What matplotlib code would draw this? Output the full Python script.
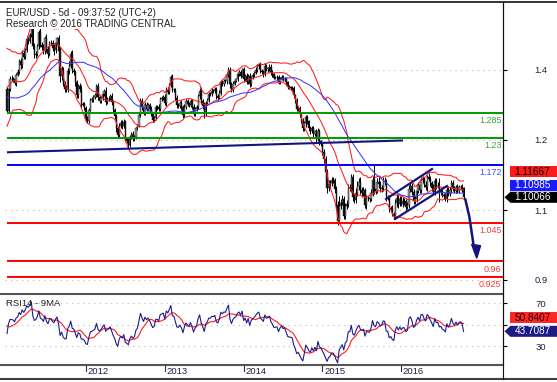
import numpy as np
import pandas as pd
import matplotlib
matplotlib.use("Agg")
import matplotlib.pyplot as plt
from matplotlib.patches import Polygon, Rectangle
from matplotlib.lines import Line2D

plt.rcParams['font.family'] = ['Liberation Sans', 'DejaVu Sans']

# ---------------- data: weekly (5d) EUR/USD closes, week ending Friday from 2010-01-08
close_2010 = [1.4410, 1.4385, 1.4135, 1.3865,
              1.3670, 1.3625, 1.3615, 1.3630,
              1.3625, 1.3775, 1.3530, 1.3385,
              1.3485, 1.3605, 1.3500, 1.3370, 1.3295,
              1.2755, 1.2390, 1.2570, 1.2265,
              1.1965, 1.2110, 1.2390, 1.2380,
              1.2565, 1.2645, 1.2945, 1.2900, 1.3050,
              1.3280, 1.2750, 1.2710, 1.2755,
              1.2890, 1.2715, 1.3050, 1.3490,
              1.3785, 1.3955, 1.3965, 1.3960, 1.3945,
              1.4035, 1.3690, 1.3675, 1.3240,
              1.3405, 1.3225, 1.3185, 1.3105, 1.3380]
close_2011 = [1.2905, 1.3375, 1.3610, 1.3605,
              1.3590, 1.3505, 1.3695, 1.3755,
              1.3985, 1.3905, 1.4180, 1.4090,
              1.4230, 1.4480, 1.4435, 1.4560, 1.4805,
              1.4320, 1.4120, 1.4155, 1.4320,
              1.4640, 1.4340, 1.4305, 1.4205,
              1.4500, 1.4260, 1.4150, 1.4385, 1.4395,
              1.4285, 1.4240, 1.4395, 1.4495,
              1.4215, 1.3655, 1.3795, 1.3500, 1.3390,
              1.3375, 1.3785, 1.3895, 1.4150,
              1.3780, 1.3750, 1.3525, 1.3240,
              1.3445, 1.3385, 1.3040, 1.3045, 1.2960]
close_2012 = [1.2720, 1.2680, 1.2930, 1.3135,
              1.3155, 1.3195, 1.3240, 1.3450,
              1.3200, 1.3125, 1.3180, 1.3270, 1.3345,
              1.3095, 1.3155, 1.3170, 1.3235,
              1.3085, 1.2915, 1.2785, 1.2515,
              1.2365, 1.2575, 1.2640, 1.2570, 1.2665,
              1.2290, 1.2245, 1.2155, 1.2320,
              1.2390, 1.2290, 1.2335, 1.2515, 1.2580,
              1.2815, 1.3125, 1.2980, 1.2860,
              1.3035, 1.2950, 1.3020, 1.2940,
              1.2835, 1.2710, 1.2745, 1.2975, 1.2985,
              1.2935, 1.3160, 1.3180, 1.3215]
close_2013 = [1.3070, 1.3365, 1.3315, 1.3460,
              1.3640, 1.3365, 1.3360, 1.3190,
              1.3020, 1.3005, 1.3075, 1.2985, 1.2820,
              1.2995, 1.3110, 1.3055, 1.3030,
              1.3115, 1.2995, 1.2835, 1.2935, 1.2995,
              1.3220, 1.3345, 1.3120, 1.3010,
              1.2830, 1.3065, 1.3140, 1.3280,
              1.3275, 1.3345, 1.3335, 1.3380, 1.3220,
              1.3190, 1.3300, 1.3525, 1.3490,
              1.3555, 1.3545, 1.3685, 1.3805,
              1.3485, 1.3365, 1.3500, 1.3560, 1.3590,
              1.3705, 1.3745, 1.3675, 1.3810]
close_2014 = [1.3590, 1.3665, 1.3540, 1.3675, 1.3485,
              1.3635, 1.3690, 1.3740, 1.3805,
              1.3875, 1.3910, 1.3780, 1.3750,
              1.3705, 1.3885, 1.3810, 1.3830,
              1.3870, 1.3755, 1.3705, 1.3630, 1.3635,
              1.3640, 1.3540, 1.3605, 1.3645,
              1.3590, 1.3605, 1.3525, 1.3430,
              1.3415, 1.3410, 1.3400, 1.3240, 1.3130,
              1.2950, 1.2965, 1.2830, 1.2685,
              1.2525, 1.2630, 1.2760, 1.2670, 1.2525,
              1.2455, 1.2525, 1.2390, 1.2450,
              1.2290, 1.2460, 1.2230, 1.2180]
close_2015 = [1.2005, 1.1840, 1.1565, 1.1205, 1.1290,
              1.1315, 1.1385, 1.1380, 1.1195,
              1.0845, 1.0495, 1.0825, 1.0890,
              1.0970, 1.0600, 1.0810, 1.0870,
              1.1200, 1.1200, 1.1445, 1.1015, 1.0950,
              1.1110, 1.1265, 1.1350, 1.1165,
              1.1110, 1.1160, 1.0830, 1.0985, 1.0985,
              1.0965, 1.1105, 1.1385, 1.1185,
              1.1150, 1.1340, 1.1300, 1.1195,
              1.1215, 1.1360, 1.1350, 1.1015, 1.1005,
              1.0740, 1.0770, 1.0645, 1.0590,
              1.0880, 1.0990, 1.0865, 1.0965]
close_2016 = [1.0860, 1.0930, 1.0915, 1.0795, 1.0830,
              1.1195, 1.1255, 1.1130, 1.0930,
              1.0970, 1.1155, 1.1270, 1.1170,
              1.1390, 1.1400, 1.1285, 1.1225, 1.1450,
              1.1405, 1.1310, 1.1220, 1.1115,
              1.1370, 1.1250, 1.1260, 1.1120,
              1.1140, 1.1055, 1.1035, 1.0975, 1.1175,
              1.1085, 1.1160, 1.1325, 1.1200,
              1.1155, 1.1235, 1.1155, 1.1225, 1.1240,
              1.1200, 1.10066]

# weekly high above max(open, close) and low below min(open, close), in pips (2011 onward)
hi_ext = ([50, 60, 55, 70, 45, 60, 40, 55, 45, 70, 50, 45, 40, 60, 35, 50, 30, 110, 70, 60, 40, 35, 80, 60, 55,
           40, 75, 70, 45, 60, 65, 95, 70, 35, 60, 90, 100, 75, 55, 80, 65, 90, 60, 80, 70, 45, 60, 55, 60, 75, 50, 40]
          + [45, 60, 40, 55, 50, 60, 45, 40, 70, 50, 55, 45, 40, 75, 50, 60, 45, 60, 50, 45, 40, 55, 70, 60, 65, 50,
             45, 40, 55, 50, 50, 60, 45, 40, 35, 55, 60, 50, 70, 65, 55, 50, 45, 60, 45, 40, 50, 35, 60, 55, 45, 40]
          + [60, 55, 50, 45, 50, 70, 45, 40, 60, 50, 45, 55, 40, 65, 55, 50, 45, 50, 45, 60, 55, 40, 50, 55, 70, 45,
             75, 60, 45, 40, 45, 50, 40, 35, 45, 55, 50, 60, 45, 40, 50, 45, 55, 65, 50, 45, 40, 35, 55, 50, 60, 40]
          + [45, 50, 55, 40, 45, 40, 45, 35, 50, 45, 40, 55, 40, 50, 55, 45, 40, 60, 50, 40, 35, 30, 45, 50, 40, 35,
             40, 35, 45, 30, 35, 40, 45, 40, 35, 50, 45, 40, 35, 60, 55, 50, 45, 40, 45, 50, 55, 40, 60, 55, 45, 40]
          + [45, 60, 80, 70, 90, 80, 70, 60, 50, 55, 70, 220, 80, 90, 60, 70, 80, 90, 100, 80, 70, 60, 110, 90, 80, 100,
             70, 80, 60, 70, 55, 60, 80, 90, 330, 70, 80, 120, 60, 70, 90, 85, 60, 50, 60, 55, 70, 45, 100, 90, 80, 70]
          + [60, 80, 70, 60, 70, 90, 80, 70, 60, 60, 90, 70, 60, 60, 70, 60, 80, 50, 80, 70, 60, 70, 60, 70, 80, 170,
             60, 70, 50, 60, 50, 80, 70, 60, 50, 60, 50, 70, 50, 40, 50, 40])
lo_ext = ([45, 50, 40, 55, 60, 45, 70, 40, 50, 80, 60, 45, 55, 40, 65, 40, 45, 60, 50, 70, 55, 60, 45, 70, 65,
           55, 60, 90, 45, 40, 70, 110, 60, 50, 40, 120, 80, 60, 70, 60, 55, 70, 45, 50, 60, 80, 65, 55, 70, 50, 40, 45]
          + [60, 55, 45, 40, 45, 50, 40, 45, 55, 60, 45, 40, 50, 60, 50, 45, 40, 50, 60, 55, 70, 65, 50, 45, 60, 55,
             75, 45, 60, 40, 45, 55, 40, 50, 40, 40, 50, 65, 55, 60, 45, 50, 40, 55, 60, 45, 40, 50, 45, 40, 50, 35]
          + [45, 60, 55, 40, 45, 60, 50, 45, 55, 45, 50, 60, 70, 45, 50, 40, 45, 55, 60, 50, 45, 40, 45, 50, 60, 65,
             80, 45, 40, 35, 40, 45, 50, 35, 60, 45, 40, 50, 45, 55, 40, 45, 50, 75, 55, 45, 40, 35, 40, 45, 55, 35]
          + [50, 45, 40, 55, 60, 40, 35, 45, 40, 45, 50, 60, 45, 55, 40, 45, 50, 45, 60, 55, 40, 35, 50, 45, 40, 35,
             45, 40, 50, 45, 40, 45, 35, 55, 50, 60, 45, 55, 60, 70, 55, 75, 50, 60, 55, 45, 60, 50, 65, 50, 70, 55]
          + [70, 80, 90, 100, 60, 80, 60, 70, 90, 100, 90, 50, 70, 60, 80, 60, 70, 70, 60, 80, 90, 70, 70, 80, 90, 80,
             100, 70, 60, 80, 70, 60, 50, 60, 100, 70, 60, 80, 70, 80, 60, 70, 90, 60, 50, 60, 50, 70, 70, 80, 90, 60]
          + [50, 70, 80, 60, 50, 60, 70, 80, 70, 70, 60, 50, 60, 70, 60, 50, 60, 70, 50, 60, 70, 60, 60, 70, 50, 210,
             60, 50, 60, 50, 70, 60, 50, 60, 50, 50, 60, 50, 60, 50, 70, 40])

# horizontal levels
levels = [1.285, 1.23, 1.172, 1.045, 0.96, 0.925]
level_labels = ["1.285", "1.23", "1.172", "1.045", "0.96", "0.925"]
level_colors = ["#009a00", "#009a00", "#0000ff", "#ff0000", "#ff0000", "#ff0000"]
label_colors = ["#3aa03a", "#3aa03a", "#4b4bff", "#ff3c3c", "#ff3c3c", "#ff3c3c"]

# drawn lines (bar index from first 2011 bar, price)
trend_x, trend_y = [0, 261.1], [1.1993, 1.2252]
chan_up_x, chan_up_y = [249.9, 280.2], [1.0969, 1.1626]
chan_lo_x, chan_lo_y = [255.8, 290.1], [1.0531, 1.1254]
arrow_x, arrow_y = [302.0, 304.8, 307.5], [1.0985, 1.0582, 0.9983]
head_x, head_y = [306.3, 312.2, 309.7], [0.9977, 0.9946, 0.9670]

# right axis labels
price_ticks = [1.3797, 1.2263, 1.0728, 0.9194]
price_tick_labels = ["1.4", "1.2", "1.1", "0.9"]
rsi_ticks = [70, 50, 30]
rsi_tick_labels = ["70", "", "30"]
main_boxes = [("1.11667", 1.1561, "#ff1a1a", "black", False),
              ("1.10985", 1.1276, "#1a1aff", "white", False),
              ("1.10066", 1.10066, "#000000", "white", True)]
rsi_boxes = [("50.8407", 56.5, "#ff2626", "#200000", False),
             ("43.7087", 43.7087, "#1c1c84", "white", True)]
years = [2012, 2013, 2014, 2015, 2016]

# ---------------- computations
close_all = np.array(close_2010 + close_2011 + close_2012 + close_2013 + close_2014 + close_2015 + close_2016)
dates = pd.date_range("2010-01-08", periods=len(close_all), freq="W-FRI")
n0 = len(close_2010)
xs = np.arange(len(close_all)) - n0
s = pd.Series(close_all)
mid = s.rolling(20).mean()
sd = s.rolling(20).std(ddof=0)
upper = mid + 2 * sd
lower = mid - 2 * sd
ma50 = s.rolling(50).mean()
delta = s.diff()
gain = delta.clip(lower=0)
loss = -delta.clip(upper=0)
ag = gain.ewm(alpha=1 / 14, adjust=False).mean()
al = loss.ewm(alpha=1 / 14, adjust=False).mean()
rsi = 100 - 100 / (1 + ag / al)
rsi_ma = rsi.rolling(9).mean()

opens = np.r_[close_all[0], close_all[:-1]][n0:]
closes = close_all[n0:]
xv = xs[n0:]
highs = np.maximum(opens, closes) + np.array(hi_ext) * 1e-4
lows = np.minimum(opens, closes) - np.array(lo_ext) * 1e-4

# ---------------- figure
W, H = 557, 382
fig = plt.figure(figsize=(W / 100, H / 100), dpi=100)
fig.patch.set_facecolor("white")
ax = fig.add_axes([5 / W, (H - 293) / H, 498 / W, 290 / H])
ax2 = fig.add_axes([5 / W, (H - 365) / H, 498 / W, 71 / H])
XL = (-1.32, 327.0)
for a in (ax, ax2):
    a.set_xlim(*XL)
    a.set_facecolor("white")
    for sp in ("top", "left", "bottom"):
        a.spines[sp].set_visible(False)
    a.spines["right"].set_color("black")
    a.spines["right"].set_linewidth(0.8)
    a.set_xticks([])
    a.yaxis.tick_right()
    a.tick_params(axis="y", length=3, width=0.8, color="black", pad=24.5, labelsize=6.8, labelcolor="#202040")
ax.set_ylim(0.8909, 1.5265)
ax2.set_ylim(12.4, 78.4)

ax.set_yticks(price_ticks)
ax.set_yticklabels(price_tick_labels)
ax2.set_yticks(rsi_ticks)
ax2.set_yticklabels(rsi_tick_labels)
for a in (ax, ax2):
    for lab in a.get_yticklabels():
        lab.set_horizontalalignment("center")
    for t in a.get_yticks():
        a.axhline(t, color="#b8b8b8", lw=0.8, ls=(0, (1, 4)), zorder=1)

# candles
ax.vlines(xv, lows, highs, color="black", lw=0.7, zorder=2)
up = closes >= opens
ax.bar(xv[up], (closes - opens)[up], bottom=opens[up], width=0.8, color="#9a9a9a",
       edgecolor="black", linewidth=0.3, zorder=2)
ax.bar(xv[~up], (opens - closes)[~up], bottom=closes[~up], width=0.8, color="#202020",
       edgecolor="black", linewidth=0.3, zorder=2)

# indicators
sl = slice(n0, None)
for line in (upper, mid, lower):
    ax.plot(xs[sl], line.values[sl], color="#ff1c1c", lw=0.75, zorder=3)
ax.plot(xs[sl], ma50.values[sl], color="#3b3bff", lw=0.75, zorder=3)

# levels
for lv, lc, tc, lt in zip(levels, level_colors, label_colors, level_labels):
    ax.hlines(lv, 0, XL[1], color=lc, lw=1.4, zorder=4)
    ax.annotate(lt, xy=(1, lv), xycoords=("axes fraction", "data"), xytext=(-1.2, -2.2),
                textcoords="offset points", ha="right", va="top", fontsize=6.5, color=tc, zorder=6)

# drawn lines
navy = "#14147e"
ax.plot(trend_x, trend_y, color=navy, lw=1.5, zorder=5, solid_capstyle="butt")
ax.plot(chan_up_x, chan_up_y, color=navy, lw=1.6, zorder=5)
ax.plot(chan_lo_x, chan_lo_y, color=navy, lw=1.6, zorder=5)
ax.plot(arrow_x, arrow_y, color=navy, lw=1.8, zorder=6, solid_capstyle="butt")
ax.add_patch(Polygon(list(zip(head_x, head_y)), closed=True, color=navy, zorder=6))

# RSI
ax2.plot(xs[sl], rsi_ma.values[sl], color="#ff1c1c", lw=0.8, zorder=3)
ax2.plot(xs[sl], rsi.values[sl], color="#1c1c8c", lw=0.8, zorder=3)

# year ticks
for yr in years:
    i = int(np.argmax(dates.year == yr)) - n0
    ax2.plot([i, i], [-0.02, -0.085], transform=ax2.get_xaxis_transform(), color="#303030",
             lw=0.8, clip_on=False)
    ax2.text(i + 1.0, -0.09, str(yr), transform=ax2.get_xaxis_transform(), ha="left", va="center",
             fontsize=6.8, color="#202040")

# value boxes on the right
def px_y(a, v):
    return a.transData.transform((0, v))[1]

def box(a, txt, v, fc, tc, arrow):
    yc = px_y(a, v)
    h = 5.5
    x0, x1 = 510.5, 557
    if arrow:
        pts = [(504.5, yc), (510.5, yc + h), (x1, yc + h), (x1, yc - h), (510.5, yc - h)]
    else:
        pts = [(x0, yc + h), (x1, yc + h), (x1, yc - h), (x0, yc - h)]
    pts = [(px / W, py / H) for px, py in pts]
    fig.add_artist(Polygon(pts, closed=True, transform=fig.transFigure, facecolor=fc,
                           edgecolor="none", zorder=10))
    fig.text(532.5 / W, yc / H, txt, ha="center", va="center", fontsize=7.2, color=tc, zorder=11)

for txt, v, fc, tc, arr in main_boxes:
    box(ax, txt, v, fc, tc, arr)
for txt, v, fc, tc, arr in rsi_boxes:
    box(ax2, txt, v, fc, tc, arr)

# title block (white background)
fig.add_artist(Rectangle((3 / W, (H - 29) / H), 173 / W, 25.5 / H, transform=fig.transFigure,
                         facecolor="white", edgecolor="none", zorder=8))
fig.text(6 / W, (H - 16) / H, "EUR/USD - 5d - 09:37:52 (UTC+2)", fontsize=7, color="#222222",
         ha="left", va="baseline", zorder=9)
fig.text(6 / W, (H - 27.3) / H, "Research \u00a9 2016 TRADING CENTRAL", fontsize=7, color="#222222",
         ha="left", va="baseline", zorder=9)
ax2.text(1 / 498 * 1.0, 0.86, "RSI14 - 9MA", transform=ax2.transAxes, fontsize=6.8, color="#222222",
         ha="left", va="center", zorder=9)

# frame lines
def fline(x0, y0, x1, y1, c, lw):
    fig.add_artist(Line2D([x0 / W, x1 / W], [(H - y0) / H, (H - y1) / H], transform=fig.transFigure,
                          color=c, lw=lw, zorder=12))

fline(0, 1.5, W, 1.5, "#101010", 1.2)
fline(0, 293.8, 503, 293.8, "#555555", 1.5)
fline(0, 365.2, 503, 365.2, "#555555", 1.5)
fline(0, 378.5, W, 378.5, "#404040", 1.5)
fline(503, 1.5, 503, 378.5, "#101010", 0.8)

fig.savefig("out.png", dpi=100)
